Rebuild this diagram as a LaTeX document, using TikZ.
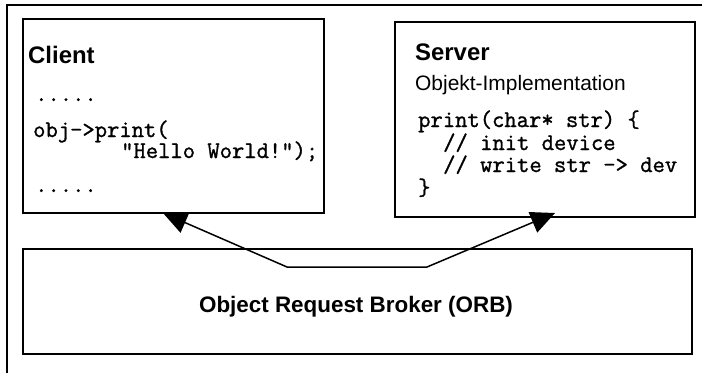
\documentclass[tikz,border=0pt]{standalone}
\usepackage{fontspec}
\setmainfont{Liberation Sans}
\newfontfamily\codefont[FakeBold=1.2]{Latin Modern Mono}
\usetikzlibrary{arrows.meta}
\begin{document}
\begin{tikzpicture}[x=1bp,y=-1bp,
  box/.style={draw, line width=1.6bp, fill=white, inner sep=0pt, anchor=north west},
  head/.style={anchor=base west, inner sep=0pt, font=\fontsize{24}{24}\selectfont\bfseries},
  sub/.style={anchor=base west, inner sep=0pt, font=\fontsize{21}{21}\selectfont},
  code/.style={anchor=base west, inner sep=0pt, font=\fontsize{24}{24}\selectfont\codefont},
  conn/.style={line width=1.5bp, {Triangle[length=24bp,width=22bp]}-{Triangle[length=24bp,width=22bp]}},
  frame/.style={line width=1.4bp}]
\useasboundingbox (0,0) rectangle (702,373);
% outer frame
\draw[frame] (7,373) -- (7,5) -- (702,5);
% boxes
\node[box, minimum width=301bp, minimum height=194bp] (client) at (22,18) {};
\node[box, minimum width=300bp, minimum height=195bp] (server) at (394,21) {};
\node[box, minimum width=669bp, minimum height=105bp] (orb) at (22,248) {};
% client text
\node[head] (clienthead) at (28,63) {Client};
\node[code] (cdots1) at (35,101) {.....};
\node[code] (cobj) at (33,137) {obj->print(};
\node[code] (chello) at (121,158) {"Hello World!");};
\node[code] (cdots2) at (35,192) {.....};
% server text
\node[head] (serverhead) at (415,60) {Server};
\node[sub] (serversub) at (415,90) {Objekt-Implementation};
\node[code] (sprint) at (418,127) {print(char* str) \{};
\node[code] (sinit) at (443,150) {// init device};
\node[code] (swrite) at (443,172) {// write str -> dev};
\node[code] (sbrace) at (418,195) {\}};
% ORB text
\node[anchor=base, inner sep=0pt, font=\fontsize{22.5}{22.5}\selectfont\bfseries] (orbtext) at (356,312) {Object Request Broker (ORB)};
% connectors
\coordinate (ltip) at (163,213);
\coordinate (bl) at (287,267);
\coordinate (br) at (427,267);
\coordinate (rtip) at (555,213);
\draw[conn] (ltip) -- (bl) -- (br) -- (rtip);
\end{tikzpicture}
\end{document}
